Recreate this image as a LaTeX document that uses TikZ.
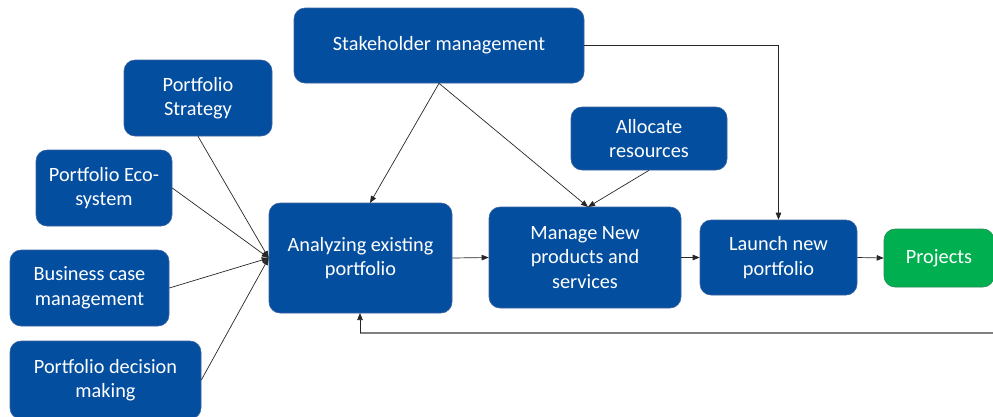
\documentclass[tikz,border=0pt]{standalone}
\usepackage{fontspec}
\setmainfont{Carlito}
\usetikzlibrary{arrows.meta}
\definecolor{boxblue}{RGB}{4,78,160}
\definecolor{boxedge}{RGB}{60,100,160}
\definecolor{boxgreen}{RGB}{0,176,80}
\definecolor{greenedge}{RGB}{40,140,80}
\definecolor{fbgray}{RGB}{128,128,128}
\tikzset{
  bx/.style={draw=boxedge, line width=0.6pt, fill=boxblue, rounded corners=11pt, text=white,
    align=center, font=\fontsize{20.3}{24.5}\selectfont, inner sep=0pt, anchor=center},
  gbx/.style={bx, fill=boxgreen, draw=greenedge},
  conn/.style={draw=black!85, line width=0.7pt, -{Triangle[length=7pt,width=5.5pt]}},
}
\begin{document}
\begin{tikzpicture}[x=1pt,y=-1pt]
\useasboundingbox (0,0) rectangle (993,416);
\node[bx, minimum width=290, minimum height=75] (stake) at (439,45.5) {Stakeholder management};
\node[bx, minimum width=148, minimum height=76] (strat) at (198,98) {Portfolio\\Strategy};
\node[bx, minimum width=136, minimum height=76] (eco) at (104,188) {Portfolio Eco-\\system};
\node[bx, minimum width=159, minimum height=76] (biz) at (89.5,288) {Business case\\management};
\node[bx, minimum width=191, minimum height=78] (dec) at (105.5,380) {Portfolio decision\\making};
\node[bx, minimum width=183, minimum height=110] (ana) at (360.5,258) {Analyzing existing\\portfolio};
\node[bx, minimum width=192, minimum height=101] (man) at (585,257.5) {Manage New\\products and\\services};
\node[bx, minimum width=156, minimum height=63] (alloc) at (649,138.5) {Allocate\\resources};
\node[bx, minimum width=157, minimum height=75] (launch) at (778.5,257.5) {Launch new\\portfolio};
\node[gbx, minimum width=110, minimum height=58] (proj) at (939,258) {Projects};

\coordinate (conv) at (ana.west);
\coordinate (fbstart) at (993,333);
\coordinate (fbcorner) at (360,333);

\draw[conn] (strat.south) -- (conv);
\draw[conn] (eco.east) -- (conv);
\draw[conn] (biz.east) -- (conv);
\draw[conn] (dec.east) -- (conv);

\draw[conn] (stake.south) -- (370,203);
\draw[conn] (stake.south) -- (588,207);
\draw[conn] (alloc.south) -- (588,207);
\draw[conn] (stake.east) -| (launch.north);

\draw[conn] (ana.east) -- (man.west);
\draw[conn] (man.east) -- (launch.west);
\draw[conn] (launch.east) -- (proj.west);

\draw[draw=fbgray, line width=1.2pt] (fbstart) -- (fbcorner);
\draw[conn] (fbcorner) -- (360,313);
\end{tikzpicture}
\end{document}
